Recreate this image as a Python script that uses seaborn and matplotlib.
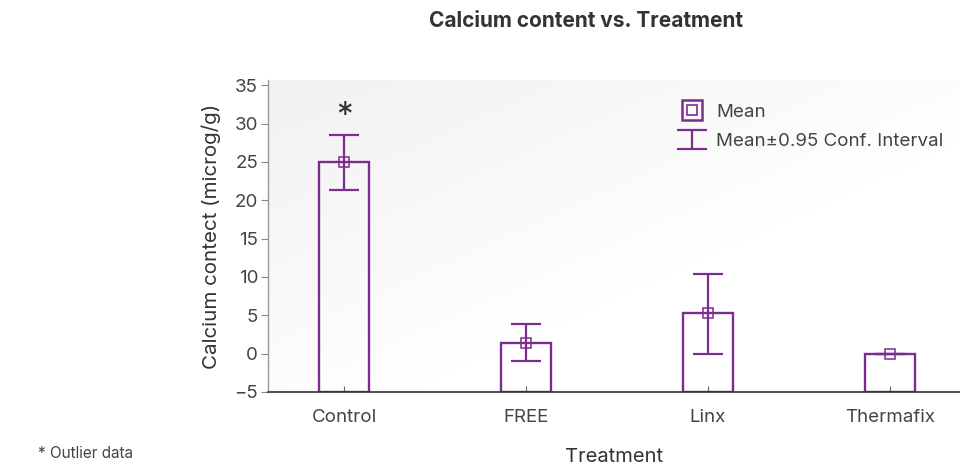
import numpy as np
import pandas as pd
import matplotlib
matplotlib.use('Agg')
import matplotlib.pyplot as plt
import seaborn as sns
from matplotlib.lines import Line2D

# 数据
treatments = ['Control', 'FREE', 'Linx', 'Thermafix']
means = [25.0, 1.45, 5.25, 0.0]
ci_low = [21.4, -0.95, 0.0, 0.0]
ci_high = [28.5, 3.85, 10.45, 0.0]
outliers = ['Control']
base = -5

purple = '#7b2d8e'
text_col = '#444444'

sns.set_theme(style='white')
plt.rcParams['font.family'] = ['Inter', 'DejaVu Sans']

df = pd.DataFrame({'Treatment': treatments, 'Mean': means})
df['Height'] = df['Mean'] - base

fig = plt.figure(figsize=(9.6, 4.7), dpi=100)
ax = fig.add_axes([0.279, 0.166, 0.721, 0.664])

# 背景渐变
gx, gy = np.meshgrid(np.linspace(0, 1, 200), np.linspace(0, 1, 200))
g = np.clip((gx + gy) / 1.2, 0, 1)
shade = 0.945 + 0.055 * g
ax.imshow(np.dstack([shade, shade, shade]), extent=[0, 1, 0, 1], transform=ax.transAxes,
          origin='upper', aspect='auto', zorder=0)

# 柱状图
sns.barplot(data=df, x='Treatment', y='Height', bottom=base, fill=False, color=purple,
            linewidth=1.7, width=0.275, errorbar=None, ax=ax, zorder=2)
for p in ax.patches:
    p.set_edgecolor(purple)

# 均值和置信区间
xs = np.arange(len(treatments))
m = np.array(means)
err = np.vstack([m - np.array(ci_low), np.array(ci_high) - m])
eb = ax.errorbar(xs, m, yerr=err, fmt='none', ecolor=purple, elinewidth=1.6, capsize=11,
                 capthick=1.6, zorder=3)
ax.plot(xs, m, linestyle='none', marker='s', markersize=7.5, markerfacecolor='none',
        markeredgecolor=purple, markeredgewidth=1.1, zorder=4)

# 离群值标记
for t in outliers:
    i = treatments.index(t)
    ax.text(i, ci_high[i] + 2.4, '*', ha='center', va='center', fontsize=24, color='#333333',
            zorder=5)

ax.set_xlim(-0.42, 3.385)
ax.set_ylim(-5, 35.7)
ax.set_yticks(np.arange(-5, 36, 5))

ax.set_xlabel('Treatment', fontsize=14.5, color='#333333', labelpad=16)
ax.set_ylabel('Calcium contect (microg/g)', fontsize=14.8, color='#333333', labelpad=10)
ax.tick_params(axis='y', labelsize=13.5, labelcolor=text_col, direction='out', length=5,
               width=0.8, color='#888888', left=True, pad=2)
ax.tick_params(axis='x', labelsize=13.5, labelcolor=text_col, direction='in', length=4,
               width=0.8, color='#666666', bottom=True, pad=12)

for s in ['top', 'right']:
    ax.spines[s].set_visible(False)
ax.spines['left'].set_color('#999999')
ax.spines['left'].set_linewidth(1)
ax.spines['bottom'].set_color('#333333')
ax.spines['bottom'].set_linewidth(1.2)

# 图例
h_mean = (Line2D([], [], linestyle='none', marker='s', markersize=14, markerfacecolor='none',
                 markeredgecolor=purple, markeredgewidth=1.8),
          Line2D([], [], linestyle='none', marker='s', markersize=6.5, markerfacecolor='none',
                 markeredgecolor=purple, markeredgewidth=1.2))
leg = ax.legend([h_mean, eb], ['Mean', 'Mean±0.95 Conf. Interval'], loc='upper left',
                bbox_to_anchor=(0.585, 0.955), frameon=False, fontsize=13.5, handlelength=1.1,
                handleheight=0.75, handletextpad=0.7, labelspacing=0.65, borderpad=0)
for t in leg.get_texts():
    t.set_color(text_col)

fig.text(0.61, 0.955, 'Calcium content vs. Treatment', ha='center', va='center',
         fontsize=15, fontweight='bold', color='#333333')
fig.text(0.04, 0.035, '* Outlier data', ha='left', va='center', fontsize=11, color=text_col)

plt.savefig('out.png', dpi=100)
